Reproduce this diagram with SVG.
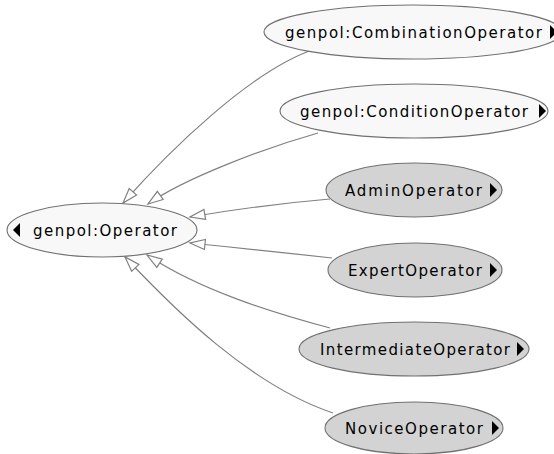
<svg xmlns="http://www.w3.org/2000/svg" width="554" height="454" viewBox="0 0 554 454">
<style>
.lbl{font-family:"DejaVu Sans","Liberation Sans",sans-serif;font-size:15px;fill:#000;text-anchor:middle}
.nw{fill:#f8f8f8;stroke:#707070;stroke-width:1.1}
.ng{fill:#d3d3d3;stroke:#707070;stroke-width:1.1}
.tri{fill:#000}
.edge{fill:none;stroke:#808080;stroke-width:1.2;marker-end:url(#hollow)}
</style>
<defs>
<marker id="hollow" markerUnits="userSpaceOnUse" markerWidth="18" markerHeight="14" refX="16" refY="6" orient="auto" viewBox="0 0 18 12">
<path d="M1,1 L16,6 L1,11 Z" fill="#fff" stroke="#808080" stroke-width="1.2"/>
</marker>
</defs>
<rect width="554" height="454" fill="#fff"/>
<g id="connectors">
<path class="edge" d="M312,50 C250,72 170,150 123,203"/>
<path class="edge" d="M318,133 C265,148 185,178 148,204"/>
<path class="edge" d="M330,199 Q260,205 190,217"/>
<path class="edge" d="M332,258 Q260,250 190,243"/>
<path class="edge" d="M330,328 C270,312 200,290 147,255"/>
<path class="edge" d="M333,413 C250,385 175,310 125,257"/>
</g>
<g id="genpol-Operator">
<ellipse class="nw" cx="102" cy="230" rx="95" ry="27"/>
<path class="tri" d="M20,223 L13,230 L20,237 Z"/>
<text class="lbl" x="105" y="235.5" textLength="144" lengthAdjust="spacing">genpol:Operator</text>
</g>
<g id="genpol-CombinationOperator">
<ellipse class="nw" cx="413" cy="32" rx="149" ry="27"/>
<path class="tri" d="M550,25 L557,32 L550,39 Z"/>
<text class="lbl" x="413.5" y="38" textLength="257" lengthAdjust="spacing">genpol:CombinationOperator</text>
</g>
<g id="genpol-ConditionOperator">
<ellipse class="nw" cx="414" cy="111" rx="134" ry="27"/>
<path class="tri" d="M539,104 L546,111 L539,118 Z"/>
<text class="lbl" x="414" y="117" textLength="228" lengthAdjust="spacing">genpol:ConditionOperator</text>
</g>
<g id="AdminOperator">
<ellipse class="ng" cx="414" cy="190" rx="88" ry="27"/>
<path class="tri" d="M490,183 L497,190 L490,197 Z"/>
<text class="lbl" x="413.5" y="195.5" textLength="137" lengthAdjust="spacing">AdminOperator</text>
</g>
<g id="ExpertOperator">
<ellipse class="ng" cx="415" cy="270" rx="87" ry="27"/>
<path class="tri" d="M490,263 L497,270 L490,277 Z"/>
<text class="lbl" x="415" y="275.5" textLength="134" lengthAdjust="spacing">ExpertOperator</text>
</g>
<g id="IntermediateOperator">
<ellipse class="ng" cx="414" cy="349" rx="115" ry="27"/>
<path class="tri" d="M517,342 L524,349 L517,356 Z"/>
<text class="lbl" x="415" y="354.5" textLength="190" lengthAdjust="spacing">IntermediateOperator</text>
</g>
<g id="NoviceOperator">
<ellipse class="ng" cx="414" cy="428" rx="89" ry="26"/>
<path class="tri" d="M492,421 L499,428 L492,435 Z"/>
<text class="lbl" x="414" y="433.5" textLength="138" lengthAdjust="spacing">NoviceOperator</text>
</g>
</svg>
